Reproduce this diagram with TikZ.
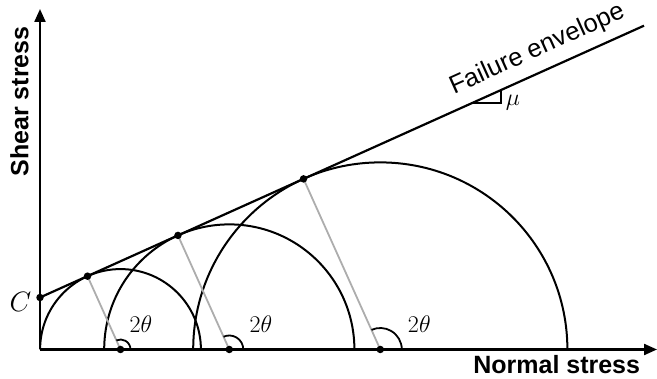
\RequirePackage{fix-cm}
\documentclass[tikz,border=0pt]{standalone}
\usepackage{fontspec}
\setmainfont{Liberation Sans}
\usetikzlibrary{arrows.meta,calc}
\begin{document}
\begin{tikzpicture}[x=1pt,y=1pt,
  axis/.style={line width=2.2pt,-{Triangle[length=13pt,width=11pt]}},
  circ/.style={line width=2pt},
  radline/.style={line width=1.8pt,draw=black!32},
  angarc/.style={line width=1.8pt},
  dot/.style={circle,fill=black,inner sep=0pt,minimum size=7.5pt},
  axlabel/.style={font=\fontsize{25}{25}\selectfont\bfseries},
  thlabel/.style={font=\fontsize{24}{24}\selectfont}
]
\useasboundingbox (0,0) rectangle (657,379);
\def\ang{114.23}
\coordinate (O) at (40,29.5);
\coordinate (xend) at (657,29.5);
\coordinate (yend) at (40,370);
% axes
\draw[axis] (O) -- (xend);
\draw[axis] (O) -- (yend);
% centres
\coordinate (c1) at ($(O)+(80.5,0)$);
\coordinate (c2) at ($(O)+(189.3,0)$);
\coordinate (c3) at ($(O)+(340.3,0)$);
% tangent points
\coordinate (t1) at ($(c1)+(\ang:80.4)$);
\coordinate (t2) at ($(c2)+(\ang:125.1)$);
\coordinate (t3) at ($(c3)+(\ang:187.1)$);
% cohesion point and envelope end
\coordinate (C) at ($(O)+(0,52)$);
\coordinate (E) at ($(O)+(604,323.8)$);
% semicircles
\draw[circ] ($(c1)+(80.4,0)$) arc[start angle=0,end angle=180,radius=80.4];
\draw[circ] ($(c2)+(125.1,0)$) arc[start angle=0,end angle=180,radius=125.1];
\draw[circ] ($(c3)+(187.1,0)$) arc[start angle=0,end angle=180,radius=187.1];
% radius lines
\draw[radline] (c1) -- (t1);
\draw[radline] (c2) -- (t2);
\draw[radline] (c3) -- (t3);
% angle arcs
\draw[angarc] ($(c1)+(10,0)$) arc[start angle=0,end angle=\ang,radius=10];
\draw[angarc] ($(c2)+(14,0)$) arc[start angle=0,end angle=\ang,radius=14];
\draw[angarc] ($(c3)+(21.5,0)$) arc[start angle=0,end angle=\ang,radius=21.5];
% envelope
\draw[line width=2.2pt] (C) -- (E);
% slope triangle
\coordinate (sa) at ($(O)+(431.6,246.2)$);
\coordinate (sb) at ($(O)+(460.7,246.2)$);
\coordinate (sc) at ($(O)+(460.7,259.3)$);
\draw[line width=1.8pt] (sa) -- (sb) -- (sc);
\node[font=\fontsize{24}{24}\selectfont] (mu) at ($(O)+(473,247)$) {$\mu$};
% dots
\foreach \p in {c1,c2,c3,t1,t2,t3,C} \node[dot] at (\p) {};
% labels
\node[font=\fontsize{28}{28}\selectfont] (Clab) at (20.5,77) {$C$};
\node[thlabel] (l1) at ($(c1)+(20.5,25.5)$) {$2\theta$};
\node[thlabel] (l2) at ($(c2)+(31.7,25.5)$) {$2\theta$};
\node[thlabel] (l3) at ($(c3)+(39,25.5)$) {$2\theta$};
\node[axlabel,anchor=base] (xl) at (556.7,5.7) {Normal stress};
\node[axlabel,rotate=90] (yl) at (19.5,277.5) {Shear stress};
\node[font=\fontsize{25.5}{25.5}\selectfont,rotate=24.23,anchor=base west,inner sep=0pt] (fe) at (454,284.5) {Failure envelope};
\end{tikzpicture}
\end{document}
